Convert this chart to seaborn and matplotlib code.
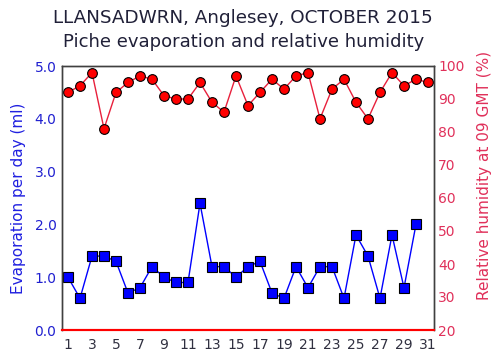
import matplotlib
matplotlib.use("Agg")
import matplotlib.pyplot as plt
import seaborn as sns
import pandas as pd

days_evap = list(range(1, 31))
evaporation = [1.0, 0.6, 1.4, 1.4, 1.3, 0.7, 0.8, 1.2, 1.0, 0.9,
               0.9, 2.4, 1.2, 1.2, 1.0, 1.2, 1.3, 0.7, 0.6, 1.2,
               0.8, 1.2, 1.2, 0.6, 1.8, 1.4, 0.6, 1.8, 0.8, 2.0]
days_rh = list(range(1, 32))
humidity = [92, 94, 98, 81, 92, 95, 97, 96, 91, 90,
            90, 95, 89, 86, 97, 88, 92, 96, 93, 97,
            98, 84, 93, 96, 89, 84, 92, 98, 94, 96, 95]
xticks = list(range(1, 32, 2))
evap_ticks = [0, 1, 2, 3, 4, 5]
rh_ticks = [20, 30, 40, 50, 60, 70, 80, 90, 100]

sns.set_style("white")
plt.rcParams['font.family'] = ['DejaVu Sans']

df_e = pd.DataFrame({"day": days_evap, "evap": evaporation})
df_h = pd.DataFrame({"day": days_rh, "rh": humidity})

fig = plt.figure(figsize=(5.04, 3.60), dpi=100)
ax = fig.add_axes([62/504, 1-330/360, (434-62)/504, (330-66)/360])
ax2 = ax.twinx()

sns.lineplot(data=df_e, x="day", y="evap", ax=ax, color="#0000ff", lw=1.0,
             marker="s", markersize=6.5, markerfacecolor="#0000ff",
             markeredgecolor="black", markeredgewidth=0.8)
sns.lineplot(data=df_h, x="day", y="rh", ax=ax2, color="#e8203c", lw=1.0,
             marker="o", markersize=7, markerfacecolor="#ff0000",
             markeredgecolor="black", markeredgewidth=0.8)

ax.set_xlim(0.5, 31.5)
ax.set_ylim(0, 5)
ax2.set_ylim(20, 100)
ax.set_xticks(xticks)
ax.set_xticklabels([str(t) for t in xticks])
ax.set_yticks(evap_ticks)
ax.set_yticklabels([f"{t:.1f}" for t in evap_ticks])
ax2.set_yticks(rh_ticks)
ax2.set_yticklabels([str(t) for t in rh_ticks])

ax.tick_params(axis='x', length=0, labelsize=10, colors="#303040", pad=6)
ax.tick_params(axis='y', length=0, labelsize=10, colors="#2020d0", pad=4)
ax2.tick_params(axis='y', length=0, labelsize=10, colors="#e0305a", pad=3)

ax.set_xlabel("")
ax.set_ylabel("Evaporation per day (ml)", color="#2020e0", fontsize=11, labelpad=6)
ax2.set_ylabel("Relative humidity at 09 GMT (%)", color="#e0305a", fontsize=11, labelpad=4)
ax2.yaxis.set_label_coords(1.115, 0.585)

for a in (ax, ax2):
    for s in a.spines.values():
        s.set_color("#404040")
        s.set_linewidth(1.0)
    a.spines['bottom'].set_color("#ff0000")
    a.spines['bottom'].set_linewidth(1.5)
ax2.grid(False)
ax.grid(False)

fig.text(243/504, 1-18/360, "LLANSADWRN, Anglesey, OCTOBER 2015", ha="center", va="center",
         fontsize=13.2, color="#202038")
fig.text(244/504, 1-42/360, "Piche evaporation and relative humidity", ha="center", va="center",
         fontsize=13, color="#202038")

fig.savefig("out.png", dpi=100)
